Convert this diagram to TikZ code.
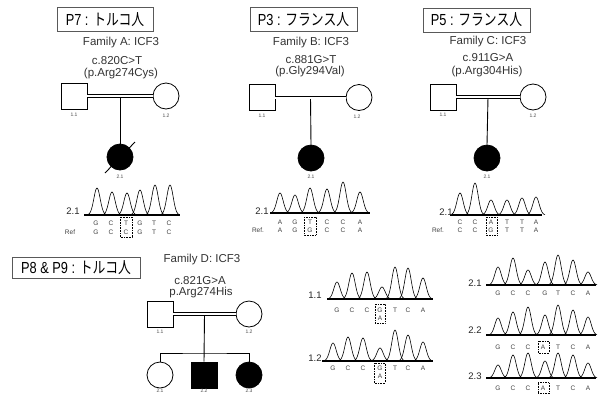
\documentclass[tikz,border=0pt]{standalone}
\usepackage{fontspec}
\setmainfont{Liberation Sans}
\newfontfamily\jp{Noto Sans CJK JP}
\usetikzlibrary{calc}
\newcommand\trace[2]{%
  \foreach \cx/\ty in {#2}{%
    \draw[peak] plot[domain=-9:9,samples=31,smooth] ({\cx+\x},{#1-(#1-\ty)*exp(-\x*\x/20)});}}
\newcommand\bases[3]{%
  \foreach \bx/\bl in {#3}{\node[base] (#1-\bx) at (\bx,#2) {\bl};}}
\begin{document}
\begin{tikzpicture}[x=1pt,y=-1pt,
  sq/.style={draw, rectangle, minimum size=26pt, inner sep=0pt, line width=0.8pt},
  ci/.style={draw, circle, minimum size=26pt, inner sep=0pt, line width=0.8pt},
  aff/.style={fill=black},
  dbl/.style={double, double distance=2pt, line width=0.9pt},
  lnk/.style={line width=0.9pt},
  idl/.style={font=\fontsize{5}{6}\selectfont, text=black!70, inner sep=0pt},
  ttl/.style={draw=black!65, line width=0.6pt, inner sep=0pt, minimum height=24pt, font=\fontsize{16}{16}\selectfont},
  info/.style={font=\fontsize{11.5}{13}\selectfont, text=black!80, inner sep=0pt},
  peak/.style={line width=0.6pt},
  basel/.style={line width=1.1pt},
  base/.style={font=\fontsize{6.5}{7}\selectfont, text=black!75, inner sep=0pt},
  lab/.style={font=\fontsize{9.5}{10}\selectfont, text=black!85, inner sep=0pt},
  bbox/.style={draw, line width=0.6pt, densely dotted}]
\useasboundingbox (0,0) rectangle (601,394);

% ---------------- Panel A ----------------
\node[ttl, minimum width=96pt] (ta) at (105,19.5) {\scalebox{0.8}[1]{P7 : {\jp トルコ人}}};
\node[info] (fa) at (121,43) {Family A: ICF3};
\node[info] (ma) at (117,61) {c.820C>T};
\node[info] (pa) at (121,74) {(p.Arg274Cys)};
\node[sq] (a11) at (74,96) {};
\node[ci] (a12) at (166,96) {};
\node[ci, aff] (a21) at (120,157) {};
\coordinate (am) at ($(a11.east)!0.5!(a12.west)$);
\draw[lnk] (am) -- (a21.north);
\draw[dbl] (a11.east) -- (a12.west);
\draw[lnk] ($(a21)+(15,-15)$) -- ($(a21)+(-15,16)$);
\node[idl] (la11) at (74,115) {1.1};
\node[idl] (la12) at (166,116) {1.2};
\node[idl] (la21) at (120,177) {2.1};
% chromatogram A
\draw[basel] (84,215) -- (180,215);
\trace{215}{97/188,112/192,127/193,140/190,155/185,170/185}
\node[lab] (ca) at (73,211) {2.1};
\bases{sa}{223}{96/G,111/C,126/T,140/G,154/T,169/C}
\bases{ra}{232}{96/G,111/C,126/C,140/G,154/T,169/C}
\node[base] (refa) at (70,232) {Ref};
\draw[bbox] (120,217) rectangle (132,237);

% ---------------- Panel B ----------------
\node[ttl, minimum width=107pt] (tb) at (303.5,19.5) {\scalebox{0.8}[1]{P3 : {\jp フランス人}}};
\node[info] (fb) at (311,43) {Family B: ICF3};
\node[info] (mb) at (311,60) {c.881G>T};
\node[info] (pb) at (310,72) {(p.Gly294Val)};
\node[sq] (b11) at (262,97.5) {};
\node[ci] (b12) at (359,97.5) {};
\node[ci, aff] (b21) at (311,158) {};
\coordinate (bm) at ($(b11.east)!0.5!(b12.west)$);
\draw[lnk] (bm) -- (b21.north);
\draw[dbl] (b11.east) -- (b12.west);
\node[idl] (lb11) at (262,116) {1.1};
\node[idl] (lb12) at (357,117) {1.2};
\node[idl] (lb21) at (311,177) {2.1};
% chromatogram B
\draw[basel] (270,213) -- (370,213);
\trace{213}{280/193,295/195,310/188,327/189,343/182,360/192}
\node[lab] (cb) at (262,211) {2.1};
\bases{sb}{222}{280/A,295/G,310/T,327/C,343/C,360/A}
\bases{rb}{230}{280/A,295/G,310/G,327/C,343/C,360/A}
\node[base] (refb) at (258,230) {Ref.};
\draw[bbox] (304,217) rectangle (316,235);

% ---------------- Panel C ----------------
\node[ttl, minimum width=107pt] (tc) at (476.5,20) {\scalebox{0.8}[1]{P5 : {\jp フランス人}}};
\node[info] (fc) at (488,42) {Family C: ICF3};
\node[info] (mc) at (488,58) {c.911G>A};
\node[info] (pc) at (487,72) {(p.Arg304His)};
\node[sq] (c11) at (443,97) {};
\node[ci] (c12) at (533,97) {};
\node[ci, aff] (c21) at (487,158) {};
\coordinate (cm) at ($(c11.east)!0.5!(c12.west)$);
\draw[lnk] (cm) -- (c21.north);
\draw[dbl] (c11.east) -- (c12.west);
\node[idl] (lc11) at (443,115) {1.1};
\node[idl] (lc12) at (533,116) {1.2};
\node[idl] (lc21) at (487,177) {2.1};
% chromatogram C
\draw[basel] (450,215) -- (542,215);
\trace{215}{460/193,475/183,491/200,507/200,522/198,536/197}
\node[lab] (cc) at (446,212) {2.1};
\bases{sc}{222}{460/C,475/C,491/A,507/T,522/T,536/A}
\bases{rc}{230}{460/C,475/C,491/G,507/T,522/T,536/A}
\node[base] (refc) at (438,230) {Ref.};
\draw[bbox] (486,217) rectangle (497,235);

% ---------------- Panel D ----------------
\node[ttl, minimum width=128pt, minimum height=21pt] (td) at (76,268) {\scalebox{0.8}[1]{P8 \& P9 : {\jp トルコ人}}};
\node[info] (fd) at (202,260) {Family D: ICF3};
\node[info] (md) at (200,281) {c.821G>A};
\node[info] (pd) at (201,293) {p.Arg274His};
\node[sq] (d11) at (160,314) {};
\node[ci] (d12) at (249,314) {};
\node[ci] (d21) at (160,375) {};
\node[sq, aff] (d22) at (204,375) {};
\node[ci, aff] (d23) at (249,375) {};
\coordinate (dm) at ($(d11.east)!0.5!(d12.west)$);
\coordinate (dsib) at ($(dm)+(0,39)$);
\draw[lnk] (dm) -- (d22.north);
\draw[lnk] (d21.north) |- (dsib) -| (d23.north);
\draw[dbl] (d11.east) -- (d12.west);
\node[idl] (ld11) at (160,332) {1.1};
\node[idl] (ld12) at (249,332) {1.2};
\node[idl] (ld21) at (160,390.5) {2.1};
\node[idl] (ld22) at (204,390.5) {2.2};
\node[idl] (ld23) at (249,390.5) {2.3};

% chromatograms D, parents
\draw[basel] (327,299) -- (433,299);
\trace{299}{337/282,352/273,367/272,382/287,395/267,408/268,423/278}
\node[lab] (cd11) at (315,295) {1.1};
\bases{sd1}{310}{337/G,352/C,367/C,380/G,395/T,408/C,423/A}
\node[base] (sd1a) at (380,318) {A};
\draw[bbox] (375,304) rectangle (385,323);

\draw[basel] (322,361) -- (433,361);
\trace{361}{333/343,348/337,363/338,380/348,395/330,408/335,423/342}
\node[lab] (cd12) at (315,358) {1.2};
\bases{sd2}{368}{333/G,348/C,363/C,380/G,395/T,408/C,423/A}
\node[base] (sd2a) at (380,376) {A};
\draw[bbox] (374,363) rectangle (385,383);

% chromatograms D, children
\draw[basel] (486,285) -- (596,285);
\trace{285}{498/267,513/258,528/270,545/262,558/255,573/260,588/272}
\node[lab] (cd21) at (475,283) {2.1};
\bases{se1}{293}{498/G,513/C,528/C,545/G,558/T,573/C,588/A}

\draw[basel] (486,335) -- (596,335);
\trace{335}{498/318,513/312,528/307,545/315,558/305,573/310,588/317}
\node[lab] (cd22) at (475,330) {2.2};
\bases{se2}{347}{498/G,513/C,528/C,543/A,558/T,573/C,588/A}
\draw[bbox] (538,341) rectangle (549,353);

\draw[basel] (486,378) -- (596,378);
\trace{378}{498/365,513/355,528/353,545/361,558/353,573/355,588/363}
\node[lab] (cd23) at (475,376) {2.3};
\bases{se3}{388}{498/G,513/C,528/C,543/A,558/T,573/C,588/A}
\draw[bbox] (538,382.5) rectangle (549,393.5);
\end{tikzpicture}
\end{document}
